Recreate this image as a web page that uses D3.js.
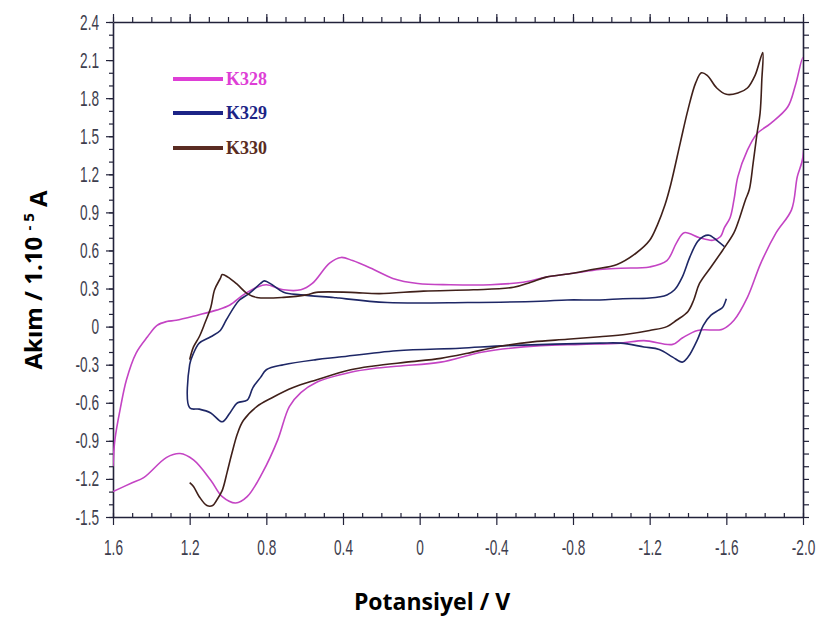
<!DOCTYPE html>
<html>
<head>
<meta charset="utf-8">
<script src="https://cdn.jsdelivr.net/npm/d3@7"></script>
<style>
  body { margin: 0; background: #fff; }
  #chart-container { width: 818px; height: 618px; }
</style>
</head>
<body>
<div id="chart-container"></div>
<script>
// Tick values and labels
const xTicks = [1.6, 1.2, 0.8, 0.4, 0, -0.4, -0.8, -1.2, -1.6, -2.0];
const xTickLabels = ["1.6", "1.2", "0.8", "0.4", "0", "-0.4", "-0.8", "-1.2", "-1.6", "-2.0"];
const yTicks = [2.4, 2.1, 1.8, 1.5, 1.2, 0.9, 0.6, 0.3, 0, -0.3, -0.6, -0.9, -1.2, -1.5];
const yTickLabels = ["2.4", "2.1", "1.8", "1.5", "1.2", "0.9", "0.6", "0.3", "0", "-0.3", "-0.6", "-0.9", "-1.2", "-1.5"];

const seriesNames = ["K328", "K329", "K330"];

// [potential V, current 1e-5 A], in scan order
const k328 = [
  [1.60, -1.10], [1.59, -0.89], [1.56, -0.63], [1.53, -0.42], [1.48, -0.21], [1.42, -0.08],
  [1.37, 0.01], [1.32, 0.04], [1.27, 0.05], [1.16, 0.09], [1.06, 0.13], [0.99, 0.17], [0.92, 0.25],
  [0.85, 0.31], [0.80, 0.33], [0.71, 0.29], [0.62, 0.29], [0.56, 0.34], [0.47, 0.50],
  [0.41, 0.545], [0.35, 0.52], [0.24, 0.45], [0.14, 0.38], [0.01, 0.34], [-0.16, 0.33],
  [-0.37, 0.33], [-0.54, 0.35], [-0.66, 0.39], [-0.80, 0.42], [-0.94, 0.45], [-1.05, 0.46],
  [-1.20, 0.47], [-1.29, 0.52], [-1.34, 0.66], [-1.38, 0.74], [-1.46, 0.70], [-1.53, 0.68],
  [-1.57, 0.71], [-1.59, 0.78], [-1.62, 0.86], [-1.64, 1.00], [-1.66, 1.18], [-1.71, 1.39],
  [-1.76, 1.52], [-1.83, 1.60], [-1.92, 1.73], [-1.96, 1.90], [-2.00, 2.12],
  [-2.00, 1.34], [-1.97, 1.18], [-1.94, 0.92], [-1.86, 0.74], [-1.78, 0.50], [-1.71, 0.23],
  [-1.64, 0.05], [-1.58, -0.02], [-1.45, -0.03], [-1.37, -0.09], [-1.32, -0.14], [-1.17, -0.11],
  [-1.05, -0.13], [-0.84, -0.14], [-0.63, -0.15], [-0.33, -0.20], [-0.11, -0.28], [0.10, -0.31],
  [0.24, -0.33], [0.36, -0.36], [0.54, -0.44], [0.62, -0.52], [0.68, -0.63], [0.74, -0.89],
  [0.82, -1.15], [0.90, -1.34], [0.96, -1.39], [1.03, -1.34], [1.09, -1.21], [1.18, -1.05],
  [1.25, -1.00], [1.32, -1.03], [1.44, -1.19], [1.50, -1.23], [1.60, -1.30]
];

const k329 = [
  [-1.59, 0.63], [-1.55, 0.68], [-1.51, 0.72], [-1.48, 0.71], [-1.45, 0.67], [-1.41, 0.55],
  [-1.37, 0.39], [-1.33, 0.29], [-1.29, 0.25], [-1.20, 0.225], [-1.06, 0.22], [-0.94, 0.21],
  [-0.77, 0.21], [-0.63, 0.20], [-0.25, 0.19], [0.17, 0.19], [0.42, 0.225], [0.45, 0.23],
  [0.62, 0.25], [0.71, 0.27], [0.77, 0.33], [0.81, 0.36], [0.83, 0.34], [0.89, 0.26],
  [0.94, 0.21], [0.97, 0.15], [1.01, 0.05], [1.04, -0.03], [1.09, -0.08], [1.15, -0.13],
  [1.18, -0.21], [1.20, -0.30], [1.20, -0.64], [1.15, -0.65], [1.09, -0.68], [1.03, -0.75],
  [0.99, -0.68], [0.95, -0.60], [0.90, -0.58], [0.87, -0.48], [0.83, -0.40], [0.80, -0.34],
  [0.71, -0.30], [0.54, -0.26], [0.42, -0.24], [0.12, -0.19], [-0.21, -0.17], [-0.46, -0.15],
  [-0.94, -0.13], [-1.05, -0.13], [-1.17, -0.16], [-1.25, -0.18], [-1.32, -0.24], [-1.37, -0.28],
  [-1.40, -0.24], [-1.45, -0.10], [-1.48, 0.01], [-1.52, 0.09], [-1.56, 0.13], [-1.58, 0.15],
  [-1.60, 0.22]
];

const k330 = [
  [1.20, -0.26], [1.18, -0.16], [1.15, -0.08], [1.12, 0.03], [1.09, 0.15], [1.07, 0.29],
  [1.04, 0.38], [1.03, 0.41], [1.00, 0.39], [0.95, 0.33], [0.90, 0.26], [0.85, 0.23],
  [0.71, 0.23], [0.59, 0.25], [0.54, 0.27], [0.36, 0.27], [0.21, 0.26], [-0.02, 0.28],
  [-0.28, 0.29], [-0.49, 0.31], [-0.58, 0.35], [-0.66, 0.39], [-0.80, 0.42], [-0.90, 0.45],
  [-1.03, 0.49], [-1.13, 0.58], [-1.20, 0.68], [-1.24, 0.80], [-1.28, 0.96], [-1.31, 1.12],
  [-1.36, 1.45], [-1.40, 1.71], [-1.44, 1.92], [-1.47, 2.00], [-1.50, 1.98], [-1.55, 1.88],
  [-1.60, 1.83], [-1.66, 1.84], [-1.71, 1.88], [-1.75, 1.98], [-1.79, 2.16], [-1.785, 1.94],
  [-1.776, 1.68], [-1.76, 1.52], [-1.74, 1.29], [-1.72, 1.08], [-1.70, 1.00], [-1.67, 0.86],
  [-1.64, 0.74], [-1.58, 0.60], [-1.52, 0.47], [-1.46, 0.34], [-1.43, 0.21], [-1.40, 0.12],
  [-1.34, 0.05], [-1.29, 0.00], [-1.20, -0.03], [-1.08, -0.06], [-0.94, -0.08], [-0.77, -0.10],
  [-0.59, -0.12], [-0.40, -0.16], [-0.25, -0.21], [-0.11, -0.25], [0.07, -0.28], [0.24, -0.31],
  [0.36, -0.34], [0.54, -0.42], [0.66, -0.48], [0.77, -0.56], [0.85, -0.63], [0.92, -0.74],
  [0.95, -0.84], [0.98, -1.00], [1.005, -1.15], [1.03, -1.29], [1.06, -1.37], [1.08, -1.41],
  [1.11, -1.41], [1.15, -1.34], [1.18, -1.26], [1.20, -1.23]
];

const seriesData = [k328, k329, k330];
const curveColors = ["#c444c4", "#1e2766", "#40201a"];
const legendColors = ["#de3ed6", "#1c2486", "#5a2c22"];

// Plot box
const margin = { top: 22, right: 15, bottom: 101, left: 113 };
const W = 818, H = 618;
const width = W - margin.left - margin.right;
const height = H - margin.top - margin.bottom;

const x = d3.scaleLinear().domain([1.6, -2.0]).range([0, width]);
const y = d3.scaleLinear().domain([-1.5, 2.4]).range([height, 0]);

const svg = d3.select("#chart-container")
  .append("svg")
  .attr("width", W)
  .attr("height", H)
  .style("font-family", "'Liberation Sans', Arial, sans-serif");

const g = svg.append("g")
  .attr("transform", `translate(${margin.left},${margin.top})`);

const axisColor = "#22223a";
const labelColor = "#3e3e4e";
const squeeze = 0.62; // tick labels are set in a condensed face

const xMinor = d3.range(-20, 17).map(d => d / 10);
const yMinor = d3.range(-15, 25).map(d => d / 10);

function styleAxis(sel) {
  sel.select(".domain").attr("stroke", axisColor).attr("stroke-width", 1.6);
  sel.selectAll(".tick line").attr("stroke", axisColor).attr("stroke-width", 1.2);
  sel.selectAll(".tick text").attr("fill", labelColor).style("font-size", "22px");
}

// bottom axis: minor ticks inside, major ticks outside with labels
g.append("g")
  .attr("transform", `translate(0,${height})`)
  .call(d3.axisBottom(x).tickValues(xMinor).tickSize(-4).tickSizeOuter(0).tickFormat(""))
  .call(styleAxis);
g.append("g")
  .attr("transform", `translate(0,${height})`)
  .call(d3.axisBottom(x).tickValues(xTicks).tickSize(8).tickSizeOuter(0).tickPadding(14)
    .tickFormat((d, i) => xTickLabels[i]))
  .call(styleAxis)
  .call(a => a.select(".domain").remove())
  .call(a => a.selectAll(".tick text").attr("transform", `scale(${squeeze},1)`));

// top axis
g.append("g")
  .call(d3.axisTop(x).tickValues(xMinor).tickSize(5).tickSizeOuter(0).tickFormat(""))
  .call(styleAxis);
g.append("g")
  .call(d3.axisTop(x).tickValues(xTicks).tickSize(8).tickSizeOuter(0).tickFormat(""))
  .call(styleAxis)
  .call(a => a.select(".domain").remove());

// left axis
g.append("g")
  .call(d3.axisLeft(y).tickValues(yMinor).tickSize(4).tickSizeOuter(0).tickFormat(""))
  .call(styleAxis);
g.append("g")
  .call(d3.axisLeft(y).tickValues(yTicks).tickSize(7).tickSizeOuter(0)
    .tickFormat((d, i) => yTickLabels[i]))
  .call(styleAxis)
  .call(a => a.select(".domain").remove())
  .call(a => a.selectAll(".tick text")
    .attr("x", -14 / squeeze)
    .attr("transform", `scale(${squeeze},1)`));

// right axis
g.append("g")
  .attr("transform", `translate(${width},0)`)
  .call(d3.axisRight(y).tickValues(yMinor).tickSize(6).tickSizeOuter(0).tickFormat(""))
  .call(styleAxis);

// curves
g.append("clipPath").attr("id", "plot-clip")
  .append("rect").attr("width", width).attr("height", height);

const line = d3.line()
  .x(d => x(d[0]))
  .y(d => y(d[1]))
  .curve(d3.curveCatmullRom.alpha(0.5));

seriesData.forEach((data, i) => {
  g.append("path")
    .datum(data)
    .attr("clip-path", "url(#plot-clip)")
    .attr("fill", "none")
    .attr("stroke", curveColors[i])
    .attr("stroke-width", 1.6)
    .attr("stroke-linejoin", "round")
    .attr("d", line);
});

// legend
const legendY = [79, 113, 148];
seriesNames.forEach((name, i) => {
  svg.append("line")
    .attr("x1", 173).attr("x2", 223)
    .attr("y1", legendY[i]).attr("y2", legendY[i])
    .attr("stroke", legendColors[i])
    .attr("stroke-width", 4);
  svg.append("text")
    .attr("x", 226)
    .attr("y", legendY[i])
    .attr("dy", "0.36em")
    .style("font-family", "'Liberation Serif', serif")
    .style("font-weight", "bold")
    .style("font-size", "18px")
    .attr("fill", legendColors[i])
    .text(name);
});

// axis titles
svg.append("text")
  .attr("x", 432)
  .attr("y", 610)
  .attr("text-anchor", "middle")
  .style("font-family", "'Open Sans', sans-serif")
  .style("font-weight", "bold")
  .style("font-size", "23px")
  .attr("fill", "#000")
  .text("Potansiyel / V");

const yTitle = svg.append("text")
  .attr("transform", "translate(42,280) rotate(-90)")
  .attr("text-anchor", "middle")
  .style("font-family", "'Open Sans', sans-serif")
  .style("font-weight", "bold")
  .style("font-size", "24px")
  .attr("fill", "#000");
yTitle.append("tspan").text("Akım / 1.10 ");
yTitle.append("tspan").attr("dy", "-0.55em").style("font-size", "15px").text("- 5");
yTitle.append("tspan").attr("dy", "0.55em").text(" A");
</script>
</body>
</html>
